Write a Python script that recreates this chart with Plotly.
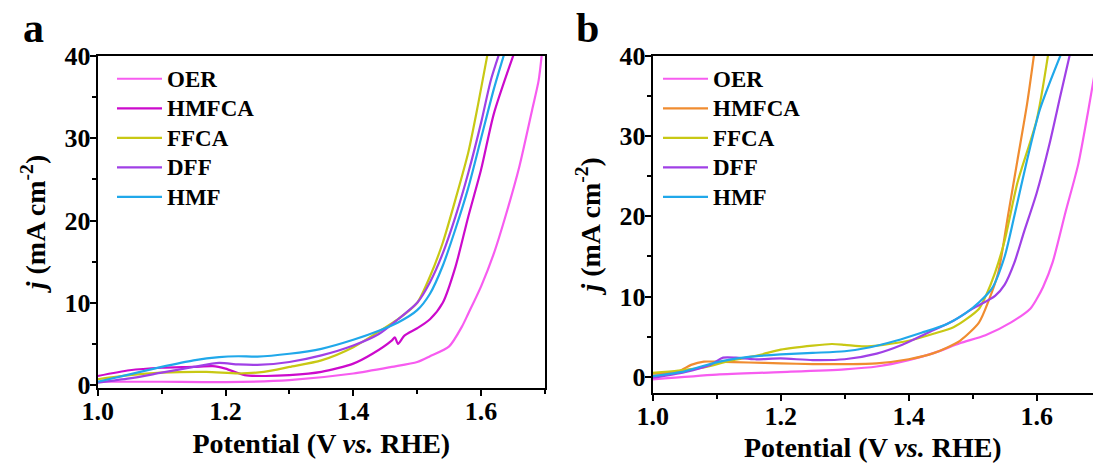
import plotly.graph_objects as go

# ---------------- Panel a data ----------------
a_oer_x = [1.00, 1.05, 1.10, 1.20, 1.30, 1.40, 1.46, 1.50, 1.52, 1.55, 1.57, 1.58, 1.60, 1.62, 1.64, 1.66, 1.68, 1.69, 1.695]
a_oer_y = [0.4, 0.4, 0.4, 0.35, 0.6, 1.4, 2.2, 2.8, 3.5, 4.7, 7.1, 8.7, 12.0, 16.0, 21.0, 26.6, 33.5, 37.0, 40.2]

a_hmfca_x = [1.00, 1.05, 1.10, 1.15, 1.18, 1.20, 1.23, 1.26, 1.30, 1.35, 1.40, 1.43, 1.46, 1.465, 1.47, 1.48, 1.50, 1.52, 1.54, 1.56, 1.58, 1.60, 1.62, 1.651]
a_hmfca_y = [1.1, 1.8, 2.1, 2.2, 2.3, 2.0, 1.2, 1.1, 1.2, 1.6, 2.6, 3.8, 5.4, 5.8, 5.0, 6.0, 6.9, 8.0, 10.0, 14.4, 20.5, 26.2, 33.0, 40.2]

a_ffca_x = [1.00, 1.05, 1.10, 1.17, 1.22, 1.26, 1.30, 1.35, 1.40, 1.44, 1.47, 1.50, 1.52, 1.54, 1.56, 1.58, 1.595, 1.61]
a_ffca_y = [0.7, 1.2, 1.5, 1.6, 1.4, 1.6, 2.2, 3.0, 4.6, 6.5, 8.0, 10.0, 13.2, 17.3, 22.6, 28.3, 34.0, 40.2]

a_dff_x = [1.00, 1.05, 1.10, 1.15, 1.19, 1.22, 1.25, 1.30, 1.35, 1.40, 1.44, 1.47, 1.50, 1.52, 1.54, 1.56, 1.58, 1.60, 1.615, 1.628]
a_dff_y = [0.3, 0.8, 1.5, 2.2, 2.7, 2.5, 2.45, 2.8, 3.6, 4.8, 6.2, 8.0, 10.0, 12.5, 16.0, 20.5, 25.8, 31.9, 37.0, 40.2]

a_hmf_x = [1.00, 1.05, 1.10, 1.15, 1.19, 1.22, 1.25, 1.30, 1.35, 1.40, 1.44, 1.47, 1.50, 1.52, 1.54, 1.56, 1.58, 1.60, 1.62, 1.636]
a_hmf_y = [0.4, 1.3, 2.2, 3.0, 3.4, 3.5, 3.45, 3.8, 4.4, 5.5, 6.6, 7.6, 9.1, 11.1, 14.5, 19.0, 24.0, 30.0, 36.0, 40.2]

# ---------------- Panel b data ----------------
b_oer_x = [1.00, 1.10, 1.20, 1.30, 1.35, 1.40, 1.44, 1.48, 1.52, 1.56, 1.59, 1.60, 1.61, 1.625, 1.645, 1.665, 1.68, 1.69]
b_oer_y = [-0.3, 0.3, 0.6, 0.95, 1.3, 2.1, 3.0, 4.2, 5.2, 6.8, 8.5, 9.7, 11.2, 14.3, 20.5, 26.5, 32.9, 37.5]

b_hmfca_x = [1.00, 1.04, 1.06, 1.08, 1.10, 1.15, 1.20, 1.25, 1.30, 1.35, 1.40, 1.44, 1.48, 1.51, 1.525, 1.54, 1.555, 1.57, 1.585, 1.596]
b_hmfca_y = [0.4, 0.7, 1.5, 1.9, 1.9, 1.8, 1.7, 1.6, 1.6, 1.7, 2.2, 3.0, 4.5, 6.8, 9.5, 13.0, 20.0, 27.0, 34.0, 40.2]

b_ffca_x = [1.00, 1.04, 1.08, 1.12, 1.17, 1.20, 1.25, 1.28, 1.30, 1.33, 1.36, 1.40, 1.44, 1.47, 1.49, 1.51, 1.52, 1.535, 1.55, 1.57, 1.60, 1.618]
b_ffca_y = [0.5, 0.8, 1.2, 2.0, 2.8, 3.4, 3.9, 4.1, 4.0, 3.8, 4.0, 4.5, 5.4, 6.2, 7.2, 8.5, 10.0, 13.0, 17.0, 24.2, 32.0, 40.2]

b_dff_x = [1.00, 1.05, 1.09, 1.11, 1.13, 1.16, 1.20, 1.25, 1.30, 1.35, 1.39, 1.43, 1.47, 1.50, 1.535, 1.55, 1.565, 1.58, 1.60, 1.62, 1.637, 1.652]
b_dff_y = [-0.1, 0.6, 1.5, 2.4, 2.4, 2.2, 2.3, 2.1, 2.2, 2.9, 4.0, 5.5, 7.0, 8.5, 10.1, 11.5, 14.2, 18.0, 22.9, 29.0, 35.0, 40.2]

b_hmf_x = [1.00, 1.05, 1.08, 1.11, 1.15, 1.20, 1.25, 1.30, 1.34, 1.38, 1.42, 1.46, 1.49, 1.51, 1.53, 1.55, 1.565, 1.585, 1.605, 1.638]
b_hmf_y = [0.1, 0.7, 1.4, 2.0, 2.5, 2.8, 3.0, 3.2, 3.7, 4.5, 5.5, 6.6, 8.0, 9.3, 11.0, 15.0, 20.0, 27.0, 33.3, 40.2]

names = ["OER", "HMFCA", "FFCA", "DFF", "HMF"]
colors_a = ["#F75CF0", "#CC0ACC", "#C8C814", "#A040E6", "#20A8EA"]
colors_b = ["#F75CF0", "#F08C30", "#C8C814", "#A040E6", "#20A8EA"]

x_ticks = [1.0, 1.2, 1.4, 1.6]
x_tick_text = ["1.0", "1.2", "1.4", "1.6"]
y_ticks = [0, 10, 20, 30, 40]
y_tick_text = ["0", "10", "20", "30", "40"]

FONT = "Liberation Serif"

fig = go.Figure()

a_sets = [(a_oer_x, a_oer_y), (a_hmfca_x, a_hmfca_y), (a_ffca_x, a_ffca_y), (a_dff_x, a_dff_y), (a_hmf_x, a_hmf_y)]
b_sets = [(b_oer_x, b_oer_y), (b_hmfca_x, b_hmfca_y), (b_ffca_x, b_ffca_y), (b_dff_x, b_dff_y), (b_hmf_x, b_hmf_y)]

def leg_name(n):
    return '<span style="font-size:23px">' + n + '</span>'

for i, (xs, ys) in enumerate(a_sets):
    fig.add_trace(go.Scatter(x=xs, y=ys, mode="lines", name=leg_name(names[i]),
                             line=dict(color=colors_a[i], width=2.2, shape="spline", smoothing=0.7),
                             xaxis="x", yaxis="y", legend="legend", legendgroup="a" + names[i]))
for i, (xs, ys) in enumerate(b_sets):
    fig.add_trace(go.Scatter(x=xs, y=ys, mode="lines", name=leg_name(names[i]),
                             line=dict(color=colors_b[i], width=2.2, shape="spline", smoothing=0.7),
                             xaxis="x2", yaxis="y2", legend="legend2", legendgroup="b" + names[i]))

tickfont = dict(family=FONT, size=26, color="black", weight="bold")
titlefont = dict(family=FONT, size=28, color="black", weight="bold")
legfont = dict(family=FONT, size=20.4, color="black", weight="bold")

def xaxis_common(domain, rng, anchor):
    return dict(domain=domain, range=rng, anchor=anchor, automargin=False, showline=True, linecolor="black", linewidth=2,
                mirror=True, ticks="outside", ticklen=6, tickwidth=2, tickcolor="black",
                tickvals=x_ticks, ticktext=x_tick_text, tickfont=tickfont, showgrid=False, zeroline=False,
                ticklabelstandoff=-7,
                minor=dict(tickvals=[1.1, 1.3, 1.5, 1.7], ticks="outside", ticklen=4, tickwidth=2, tickcolor="black"),
                title=dict(text="Potential (V <i>vs.</i> RHE)", font=titlefont, standoff=8))

def yaxis_common(domain, rng, anchor, mirror):
    return dict(domain=domain, range=rng, anchor=anchor, automargin=False, showline=True, linecolor="black", linewidth=2,
                mirror=mirror, ticks="outside", ticklen=6, tickwidth=2, tickcolor="black",
                tickvals=y_ticks, ticktext=y_tick_text, tickfont=tickfont, showgrid=False, zeroline=False,
                ticklabelstandoff=-6,
                minor=dict(tickvals=[5, 15, 25, 35], ticks="outside", ticklen=4, tickwidth=2, tickcolor="black"),
                title=dict(text="<i>j</i> (mA cm<sup>-2</sup>)", font=titlefont, standoff=11))

W, H = 1093, 463
fig.update_layout(
    width=W, height=H, margin=dict(l=0, r=0, t=0, b=0, autoexpand=False),
    paper_bgcolor="white", plot_bgcolor="white",
    font=dict(family=FONT, color="black"),
    xaxis=xaxis_common([97.7 / W, 545 / W], [1.0, 1.7], "y"),
    yaxis=yaxis_common([1 - 388 / H, 1 - 56 / H], [-0.36, 40], "x", True),
    xaxis2=xaxis_common([652.7 / W, 1.0], [1.0, 1.688], "y2"),
    yaxis2=yaxis_common([1 - 393 / H, 1 - 55.7 / H], [-2.0, 40], "x2", False),
    legend=dict(x=112 / W, y=1 - 59 / H, xanchor="left", yanchor="top", bgcolor="rgba(0,0,0,0)",
                font=legfont, tracegroupgap=0, itemwidth=45, traceorder="normal"),
    legend2=dict(x=658 / W, y=1 - 59 / H, xanchor="left", yanchor="top", bgcolor="rgba(0,0,0,0)",
                 font=legfont, tracegroupgap=0, itemwidth=45, traceorder="normal"),
    annotations=[
        dict(text="<b>a</b>", x=33 / W, y=1 - 28 / H, xref="paper", yref="paper", showarrow=False,
             xanchor="center", yanchor="middle", font=dict(family=FONT, size=42, color="black")),
        dict(text="<b>b</b>", x=587 / W, y=1 - 28 / H, xref="paper", yref="paper", showarrow=False,
             xanchor="center", yanchor="middle", font=dict(family=FONT, size=42, color="black")),
    ],
)

fig.write_html("out.html", config={"displayModeBar": False},
               post_script="document.body.style.margin='0';document.body.style.overflow='hidden';")
